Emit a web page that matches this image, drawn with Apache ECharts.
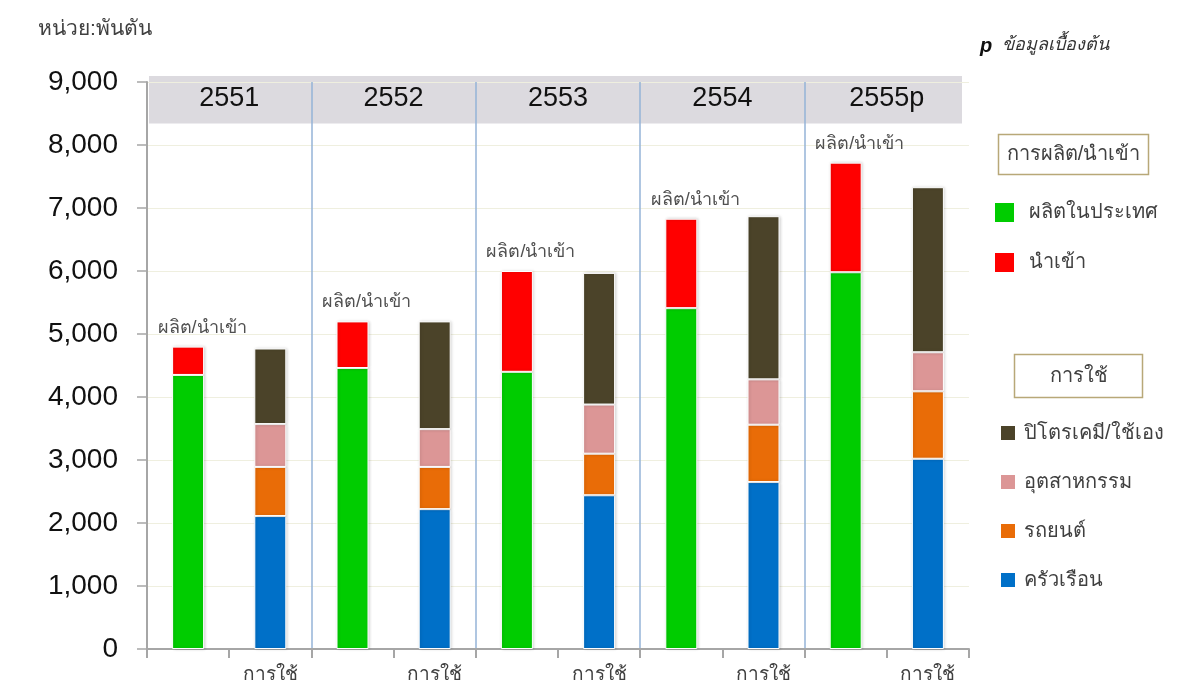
<!DOCTYPE html>
<html>
<head>
<meta charset="utf-8">
<script src="https://cdn.jsdelivr.net/npm/echarts@6/dist/echarts.min.js"></script>
<style>
html,body{margin:0;padding:0;background:#fff;}
#c{width:1185px;height:687px;}
</style>
</head>
<body>
<div id="c"></div>
<script>
// ---- data ----
var years = ['2551', '2552', '2553', '2554', '2555p'];
var usageLabel = 'การใช้';
var prodLabel = 'ผลิต/นำเข้า';
var yTicks = [0, 1000, 2000, 3000, 4000, 5000, 6000, 7000, 8000, 9000];
// production / import (thousand tonnes)
var domestic = [4350, 4460, 4400, 5410, 5980];
var imports = [450, 740, 1600, 1420, 1740];
// usage
var household = [2110, 2220, 2440, 2650, 3020];
var automobile = [780, 670, 660, 910, 1070];
var industry = [680, 600, 780, 720, 620];
var petrochem = [1200, 1710, 2090, 2590, 2620];

var FONT = "Tahoma, 'Liberation Sans', Arial, 'Noto Sans', sans-serif";
var NUMFONT = "'Liberation Sans', Arial, sans-serif";

// ---- build category axis: two slots per year ----
var cats = [];
years.forEach(function () { cats.push(''); cats.push(usageLabel); });
function prodSlot(arr) { var o = []; arr.forEach(function (v) { o.push(v); o.push('-'); }); return o; }
function useSlot(arr) { var o = []; arr.forEach(function (v) { o.push('-'); o.push(v); }); return o; }

var chart = echarts.init(document.getElementById('c'), null, { renderer: 'canvas' });

function bar(name, data, color, extra) {
  var s = {
    name: name, type: 'bar', stack: 'total', barWidth: 32,
    data: data,
    itemStyle: { color: color, borderColor: '#ffffff', borderWidth: 1,
      shadowColor: 'rgba(0,0,0,0.18)', shadowBlur: 3, shadowOffsetX: 1, shadowOffsetY: 0 },
    emphasis: { disabled: true }
  };
  if (extra) for (var k in extra) s[k] = extra[k];
  return s;
}

var option = {
  animation: false,
  backgroundColor: '#ffffff',
  textStyle: { fontFamily: FONT },
  grid: { left: 147, right: 216, top: 82, bottom: 38, containLabel: false },
  xAxis: [{
    type: 'category', data: cats, position: 'bottom',
    axisLine: { show: true, lineStyle: { color: '#a6a6a6', width: 2 } },
    axisTick: { show: true, length: 9, lineStyle: { color: '#a6a6a6', width: 2 } },
    axisLabel: { color: '#404040', fontSize: 19, margin: 16, fontFamily: FONT, interval: 0 },
    splitLine: { show: false }
  }, {
    type: 'category', data: years, position: 'top',
    axisLine: { show: false }, axisTick: { show: false },
    axisLabel: { color: '#111', fontSize: 27, margin: -17, verticalAlign: 'middle', fontFamily: NUMFONT },
    splitLine: { show: true, showMinLine: false, showMaxLine: false, lineStyle: { color: '#95b3d7', width: 1.5 } }
  }],
  yAxis: {
    type: 'value', min: yTicks[0], max: yTicks[yTicks.length - 1], interval: yTicks[1] - yTicks[0],
    axisLine: { show: true, lineStyle: { color: '#a6a6a6', width: 2 } },
    axisTick: { show: true, length: 10, lineStyle: { color: '#a6a6a6', width: 1.5 } },
    axisLabel: { color: '#111', fontSize: 28, margin: 29, fontFamily: NUMFONT,
      formatter: function (v) { return v.toLocaleString('en-US'); } },
    splitLine: { show: true, lineStyle: { color: '#efefdf', width: 1 } }
  },
  legend: [{
    orient: 'vertical', left: 993, top: 201, padding: 0,
    itemWidth: 21, itemHeight: 21, itemGap: 27, icon: 'rect', selectedMode: false,
    data: ['ผลิตในประเทศ', 'นำเข้า'],
    textStyle: { fontSize: 20, color: '#404040', fontFamily: FONT, padding: [0, 0, 0, 9], lineHeight: 21 }
  }, {
    orient: 'vertical', left: 999, top: 423, padding: 0,
    itemWidth: 16, itemHeight: 16, itemGap: 29, icon: 'rect', selectedMode: false,
    data: ['ปิโตรเคมี/ใช้เอง', 'อุตสาหกรรม', 'รถยนต์', 'ครัวเรือน'],
    textStyle: { fontSize: 20, color: '#404040', fontFamily: FONT, padding: [0, 0, 0, 3], lineHeight: 20 }
  }],
  series: [
    bar('ผลิตในประเทศ', prodSlot(domestic), '#00cc00'),
    bar('นำเข้า', prodSlot(imports), '#ff0000', {
      label: { show: true, position: 'top', formatter: prodLabel, fontSize: 18, color: '#505050',
        fontFamily: FONT, offset: [14, -5] }
    }),
    bar('ครัวเรือน', useSlot(household), '#0070c8'),
    bar('รถยนต์', useSlot(automobile), '#e96c07'),
    bar('อุตสาหกรรม', useSlot(industry), '#dc9696'),
    bar('ปิโตรเคมี/ใช้เอง', useSlot(petrochem), '#4b4329')
  ]
};
chart.setOption(option);

// header band & boxes
var yTop = chart.convertToPixel({ yAxisIndex: 0 }, 9000);
var x0 = chart.convertToPixel({ xAxisIndex: 0 }, 0);
var x1 = chart.convertToPixel({ xAxisIndex: 0 }, 1);
var cw = x1 - x0;
var leftEdge = x0 - cw / 2;
var rightEdge = leftEdge + cw * cats.length;
var bandBottom = chart.convertToPixel({ yAxisIndex: 0 }, 8340);

chart.setOption({
  graphic: [
    { type: 'rect', z: -1, silent: true,
      shape: { x: leftEdge + 2, y: yTop - 6, width: rightEdge - leftEdge - 9, height: bandBottom - yTop + 6 },
      style: { fill: '#dcdadf' } },
    { type: 'text', left: 38, top: 19, silent: true,
      style: { text: 'หน่วย:พันตัน', font: '21px ' + FONT, fill: '#404040' } },
    { type: 'text', left: 980, top: 36, silent: true,
      style: { text: 'p', font: 'italic bold 20px ' + FONT, fill: '#111' } },
    { type: 'text', left: 1002, top: 36, silent: true,
      style: { text: 'ข้อมูลเบื้องต้น', font: 'italic 18px ' + FONT, fill: '#333' } },
    { type: 'rect', silent: true, shape: { x: 998.5, y: 134.5, width: 150, height: 40 },
      style: { fill: '#fff', stroke: '#b8a878', lineWidth: 1.5 } },
    { type: 'text', silent: true, x: 1073.5, y: 154.5,
      style: { text: 'การผลิต/นำเข้า', font: '20px ' + FONT, fill: '#404040', align: 'center', verticalAlign: 'middle' } },
    { type: 'rect', silent: true, shape: { x: 1014.5, y: 354.5, width: 128, height: 43 },
      style: { fill: '#fff', stroke: '#b8a878', lineWidth: 1.5 } },
    { type: 'text', silent: true, x: 1078.5, y: 376,
      style: { text: 'การใช้', font: '20px ' + FONT, fill: '#404040', align: 'center', verticalAlign: 'middle' } }
  ]
});
</script>
</body>
</html>
